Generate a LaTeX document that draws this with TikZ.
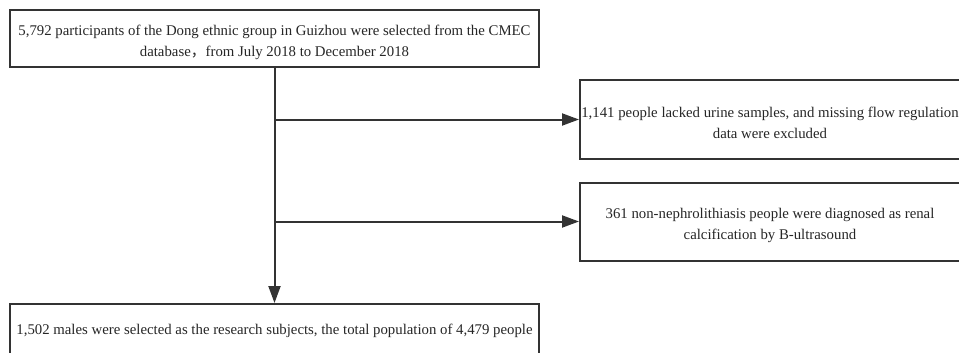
\documentclass[tikz,border=0pt]{standalone}
\usepackage{fontspec}
\setmainfont{Liberation Serif}
\newfontfamily\cjk{Noto Sans CJK SC}
\usetikzlibrary{arrows.meta, positioning, calc}
\newcommand{\topgap}{\rule{0pt}{18pt}}

\begin{document}
\begin{tikzpicture}[
    x=1pt, y=-1pt,
    box/.style={rectangle, draw=black!80, line width=2pt, fill=white,
        text=black!85, font=\fontsize{14.8}{21}\selectfont, align=center, inner sep=0pt},
    wide/.style={box, minimum width=529pt},
    side/.style={box, minimum width=380pt, minimum height=78pt},
    arr/.style={-{Triangle[length=17pt, width=12pt]}, line width=2pt, black!80},
]
    \useasboundingbox (0,0) rectangle (959,353);
    \node[wide, minimum height=57pt] (src) at (274.5,38.5)
        {\topgap 5,792 participants of the Dong ethnic group in Guizhou were selected from the CMEC\\
         database{\cjk，}from July 2018 to December 2018};
    \node[side] (excl1) at (770,119.5)
        {\topgap 1,141 people lacked urine samples, and missing flow regulation\\ data were excluded};
    \node[side] (excl2) at (770,221.5)
        {\topgap 361 non-nephrolithiasis people were diagnosed as renal\\ calcification by B-ultrasound};
    \node[wide, minimum height=54pt] (final) at (274.5,331)
        {1,502 males were selected as the research subjects, the total population of 4,479 people};
    \coordinate (j1) at (src.south |- excl1.west);
    \coordinate (j2) at (src.south |- excl2.west);
    \draw[arr] (src.south) -- (final.north);
    \draw[arr] (j1) -- (excl1.west);
    \draw[arr] (j2) -- (excl2.west);
\end{tikzpicture}
\end{document}
